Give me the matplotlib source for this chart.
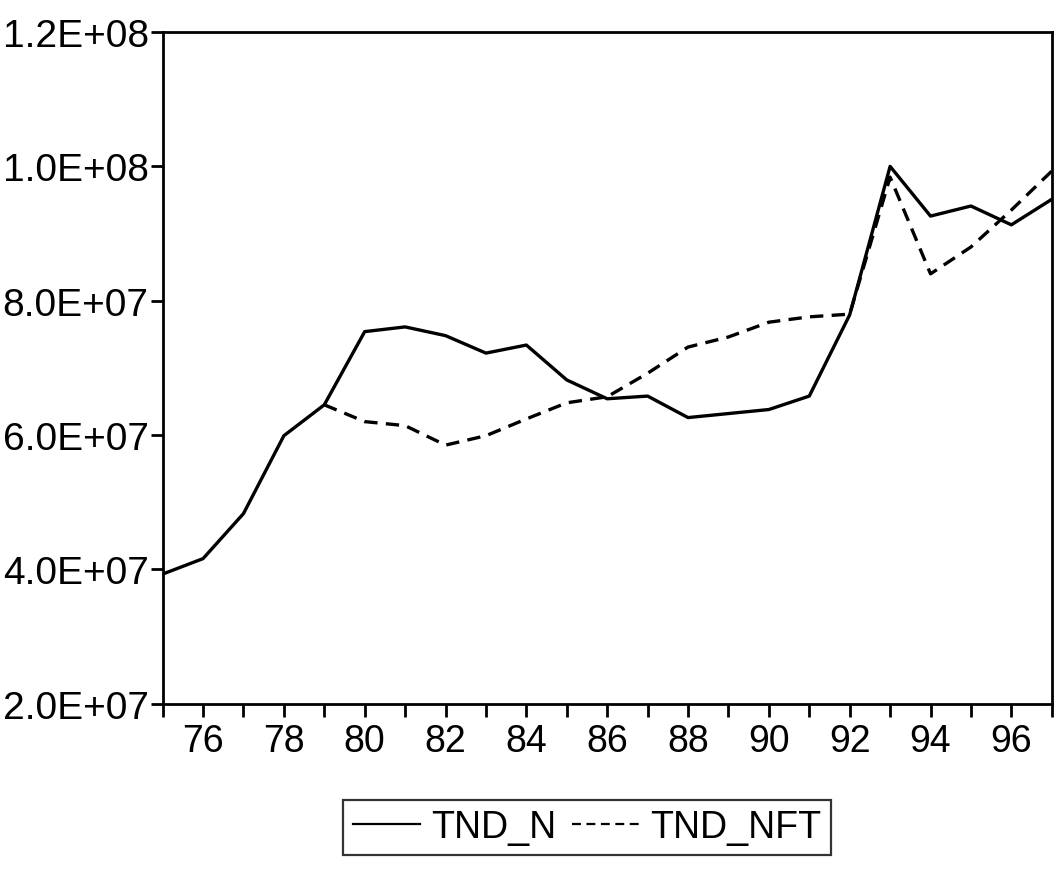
import numpy as np
import matplotlib.pyplot as plt

years = np.arange(75, 98)
tnd_n = [3.93e7, 4.16e7, 4.83e7, 5.99e7, 6.45e7, 7.54e7, 7.61e7, 7.48e7, 7.22e7, 7.34e7,
         6.82e7, 6.54e7, 6.58e7, 6.26e7, 6.32e7, 6.38e7, 6.58e7, 7.79e7, 1.0e8, 9.26e7,
         9.41e7, 9.13e7, 9.51e7]
nft_years = np.arange(79, 98)
tnd_nft = [6.45e7, 6.2e7, 6.14e7, 5.85e7, 5.99e7, 6.24e7, 6.48e7, 6.57e7, 6.92e7, 7.31e7,
           7.46e7, 7.68e7, 7.76e7, 7.8e7, 9.84e7, 8.4e7, 8.8e7, 9.35e7, 9.93e7]
yticks = [2e7, 4e7, 6e7, 8e7, 1e8, 1.2e8]
ylabels = ['2.0E+07', '4.0E+07', '6.0E+07', '8.0E+07', '1.0E+08', '1.2E+08']

plt.rcParams['font.family'] = ['Liberation Sans', 'DejaVu Sans']

fig = plt.figure(figsize=(10.56, 8.7), dpi=100)
ax = fig.add_axes([0.154, 0.190, 0.842, 0.772])
ax.plot(years, tnd_n, color='black', lw=2.4, label='TND_N')
ax.plot(nft_years, tnd_nft, color='black', lw=2.4, ls=(0, (4, 2.5)), label='TND_NFT')

ax.set_xlim(75, 97)
ax.set_ylim(2e7, 1.2e8)
ax.set_xticks(years, minor=True)
ax.set_xticks(np.arange(76, 98, 2))
ax.set_xticklabels([str(y) for y in range(76, 98, 2)])
ax.set_yticks(yticks)
ax.set_yticklabels(ylabels)
ax.tick_params(axis='both', which='both', direction='out', length=9, width=2)
ax.tick_params(axis='x', labelsize=27, pad=5)
ax.tick_params(axis='y', labelsize=28, pad=1)
for s in ax.spines.values():
    s.set_linewidth(2)

leg = fig.legend(loc='center', bbox_to_anchor=(0.556, 0.048), ncol=2, fontsize=27,
                 frameon=True, fancybox=False, edgecolor='black', handlelength=1.8,
                 handletextpad=0.3, columnspacing=0.4, borderpad=0.25, borderaxespad=0)
leg.get_frame().set_linewidth(1.6)
for h in leg.get_lines():
    h.set_linewidth(1.6)

fig.savefig('out.png', dpi=100)
